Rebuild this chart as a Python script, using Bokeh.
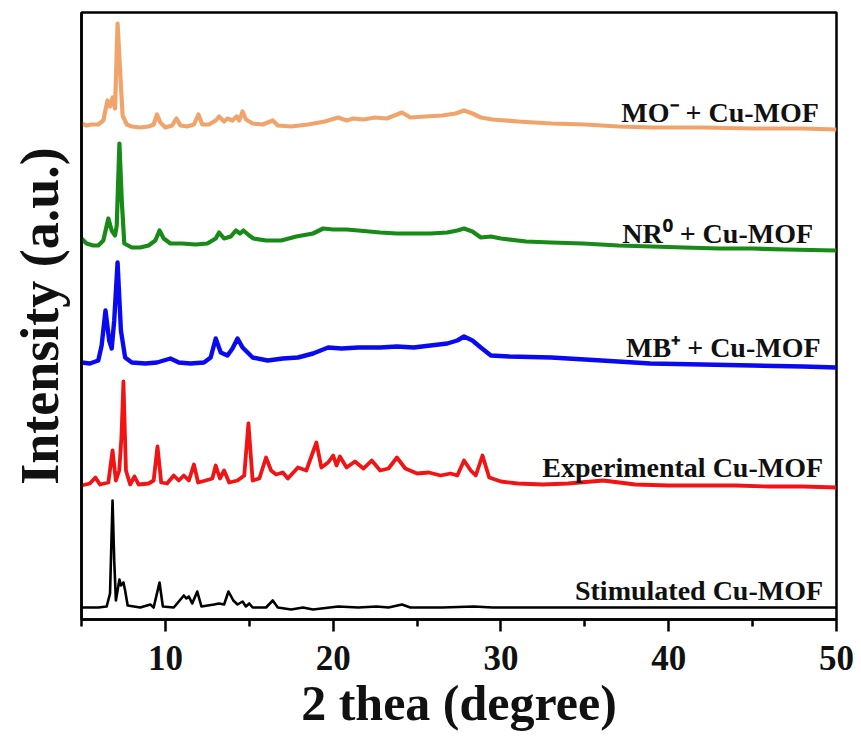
from bokeh.plotting import figure
from bokeh.models import Range1d, FixedTicker
from bokeh.core.properties import value
from bokeh.embed import file_html
from bokeh.resources import INLINE

# ---------------- data (2theta in degree, intensity in a.u.) ----------------
x_mo = [5.0, 5.3, 5.6, 6.0, 6.3, 6.55, 6.7, 6.85, 7.0, 7.15, 7.3, 7.45, 7.7, 8.0, 8.5, 9.0, 9.3, 9.5, 9.7, 10.0,
        10.4, 10.66, 10.9, 11.3, 11.7, 11.97, 12.2, 12.6, 13.0, 13.2, 13.5, 13.7, 14.0, 14.24, 14.4, 14.6, 14.8,
        15.2, 15.8, 16.4, 16.7, 17.5, 18.5, 19.5, 20.3, 20.8, 21.2, 21.8, 22.5, 23.2, 24.1, 24.6, 25.5, 26.5,
        27.3, 27.8, 28.3, 28.8, 29.5, 31, 33, 35, 37, 39, 42, 45, 48, 50]
i_mo = [4, 2, 3, 3, 7, 27, 21, 30, 19, 104, 57, 12, 3, 1, 0, 1, 3, 13, 5, 0,
        2, 9, 2, 1, 3, 13, 3, 3, 7, 11, 6, 9, 7, 11, 7, 16, 8,
        4, 3, 7, 2, 1, 3, 6, 10, 7, 9, 8, 10, 9, 15, 10, 11, 12,
        14, 17, 14, 10, 8, 6, 4, 3, 1, 0, 0, -1, -1, -2]

x_nr = [5.0, 5.3, 5.7, 6.0, 6.3, 6.6, 6.8, 7.0, 7.1, 7.26, 7.4, 7.55, 8.0, 8.5, 9.0, 9.4, 9.65, 9.9, 10.3, 11.0,
        11.8, 12.5, 13.0, 13.2, 13.5, 13.9, 14.2, 14.45, 14.65, 15.0, 15.25, 16.0, 16.9, 17.8, 18.8, 19.4, 20.0,
        20.8, 21.5, 22.8, 23.8, 24.8, 25.8, 26.8, 27.4, 27.8, 28.3, 28.8, 29.4, 30.0, 31.5, 33, 34.9, 37, 39,
        40.9, 43, 45, 47, 50]
i_nr = [9, 4, 2, 2, 7, 29, 17, 12, 22, 104, 47, 4, 0, 0, 2, 7, 17, 9, 4, 4,
        3, 4, 9, 15, 9, 11, 17, 14, 17, 12, 9, 7, 7, 11, 14, 19, 18,
        18, 17, 15, 14, 14, 14, 15, 17, 19, 16, 10, 11, 9, 6, 5, 4, 2, 1,
        0, -1, -1, -2, -3]

x_mb = [5.0, 5.5, 6.0, 6.2, 6.43, 6.65, 6.8, 6.95, 7.15, 7.35, 7.6, 8.0, 8.8, 9.5, 10.3, 10.8, 11.5, 12.3, 12.7,
        13.0, 13.3, 13.7, 14.0, 14.3, 14.6, 15.2, 16.1, 17.0, 17.9, 18.8, 19.7, 20.5, 21.5, 22.8, 23.8, 24.8,
        25.8, 26.8, 27.4, 27.8, 28.3, 28.8, 29.4, 30.5, 33, 36, 38.9, 42, 45, 48, 50]
i_mb = [1, 0, 3, 18, 53, 23, 15, 43, 101, 33, 6, 1, 0, 1, 5, 1, 0, 1, 6,
        25, 11, 8, 15, 25, 16, 6, 3, 5, 6, 10, 16, 15, 16, 16, 17, 16,
        18, 20, 23, 27, 23, 16, 8, 7, 6, 3, 0, -1, -2, -3, -4]

x_exp = [5.0, 5.5, 5.83, 6.1, 6.6, 6.85, 7.05, 7.25, 7.38, 7.5, 7.65, 7.9, 8.16, 8.4, 9.0, 9.3, 9.53, 9.75, 10.1,
         10.5, 10.8, 11.1, 11.4, 11.7, 11.95, 12.4, 12.8, 13.0, 13.25, 13.5, 13.8, 14.3, 14.7, 14.95, 15.2, 15.6,
         16.0, 16.3, 16.6, 17.0, 17.3, 17.9, 18.4, 19.0, 19.3, 19.7, 20.0, 20.2, 20.4, 20.8, 21.3, 21.8, 22.3,
         22.8, 23.3, 23.8, 24.3, 25.0, 25.7, 26.4, 27.0, 27.4, 27.8, 28.2, 28.5, 28.9, 29.3, 30.0, 31.0, 32.5,
         34.0, 36.1, 38.0, 40.0, 42.0, 44.0, 46.0, 48.0, 50.0]
i_exp = [0, 2, 8, 1, 3, 35, 5, 15, 48, 104, 15, 1, 9, 1, 2, 5, 39, 3, 2,
         10, 5, 10, 5, 21, 3, 5, 7, 20, 7, 15, 3, 5, 10, 62, 5, 7,
         28, 15, 11, 13, 7, 18, 15, 43, 18, 23, 30, 20, 29, 18, 24, 17, 25,
         15, 17, 28, 17, 12, 13, 10, 12, 10, 25, 15, 10, 30, 8, 4, 2, 1,
         2, 5, 1, 0, 0, 0, -1, -1, -2]

x_sim = [5.0, 6.0, 6.5, 6.7, 6.85, 6.95, 7.05, 7.2, 7.26, 7.35, 7.5, 7.6, 7.75, 8.5, 9.1, 9.3, 9.65, 9.85, 10.5,
         11.1, 11.25, 11.4, 11.6, 11.9, 12.15, 12.9, 13.2, 13.5, 13.76, 14.05, 14.3, 14.6, 14.8, 15.0, 15.2,
         16.0, 16.4, 16.7, 17.5, 18.2, 18.8, 20.3, 21.5, 22.6, 23.3, 24.1, 24.6, 26.5, 28.4, 29.5, 32, 35, 38,
         41, 44, 47, 50]
i_sim = [0, 0, 1, 14, 107, 47, 7, 22, 28, 22, 25, 17, 2, 0, 3, 0, 25, 1, 0,
         12, 9, 11, 4, 16, 1, 3, 4, 3, 16, 7, 3, 6, 1, 4, 0,
         0, 7, 0, -2, 0, -2, 1, 0, 1, 0, 3, 0, 0, 1, 0, 0, 0, 0,
         0, 0, 0, 0]

series_names = ["MO\u207b + Cu-MOF", "NR\u2070 + Cu-MOF", "MB\u207a + Cu-MOF",
                "Experimental Cu-MOF", "Stimulated Cu-MOF"]
x_ticks = [10, 20, 30, 40, 50]

# ---------------- layout / style ----------------
stack_offsets = [492, 372, 256, 134, 12]
colors = ["#F0A46C", "#178A17", "#0A0AF0", "#F01414", "#000000"]
widths = [4.2, 4.2, 4.4, 3.8, 2.6]
label_x = [48.95, 48.6, 49.05, 49.2, 49.2]
label_y = [507, 386, 272, 152, 29]

FONT = "Liberation Serif"

p = figure(width=861, height=744, x_range=Range1d(5, 50), y_range=Range1d(0, 607),
           output_backend="svg", toolbar_location=None,
           min_border_left=81, min_border_right=25, min_border_top=12, min_border_bottom=125)
p.background_fill_color = "white"
p.border_fill_color = "white"
p.xgrid.visible = False
p.ygrid.visible = False
p.outline_line_color = "black"
p.outline_line_width = 2.5

xs = [x_mo, x_nr, x_mb, x_exp, x_sim]
ys = [i_mo, i_nr, i_mb, i_exp, i_sim]
for xv, iv, off, c, w in zip(xs, ys, stack_offsets, colors, widths):
    p.line(xv, [v + off for v in iv], line_color=c, line_width=w, line_join="round")

p.text(x=label_x, y=label_y, text=series_names, text_align="right", text_baseline="alphabetic",
       text_font=value(FONT), text_font_style="bold", text_font_size="28px", text_color="#111111")

xa = p.xaxis[0]
xa.ticker = FixedTicker(ticks=x_ticks, minor_ticks=[5, 15, 25, 35, 45])
xa.axis_line_width = 2.5
xa.major_tick_line_width = 2.5
xa.minor_tick_line_width = 2.5
xa.major_tick_out = 12
xa.major_tick_in = 0
xa.minor_tick_out = 7
xa.minor_tick_in = 0
xa.major_label_text_font = FONT
xa.major_label_text_font_style = "bold"
xa.major_label_text_font_size = "35px"
xa.major_label_text_color = "#111111"
xa.major_label_standoff = 14
xa.axis_label = "2 thea (degree)"
xa.axis_label_text_font = FONT
xa.axis_label_text_font_style = "bold"
xa.axis_label_text_font_size = "50px"
xa.axis_label_text_color = "#111111"
xa.axis_label_standoff = 2

ya = p.yaxis[0]
ya.ticker = FixedTicker(ticks=[])
ya.major_tick_out = 0
ya.major_tick_in = 0
ya.minor_tick_out = 0
ya.minor_tick_in = 0
ya.major_label_standoff = 0
ya.axis_line_width = 2.5
ya.axis_label = "Intensity (a.u.)"
ya.axis_label_text_font = FONT
ya.axis_label_text_font_style = "bold"
ya.axis_label_text_font_size = "54px"
ya.axis_label_text_color = "#111111"
ya.axis_label_standoff = 12

open("out.html", "w").write(file_html(p, INLINE))
